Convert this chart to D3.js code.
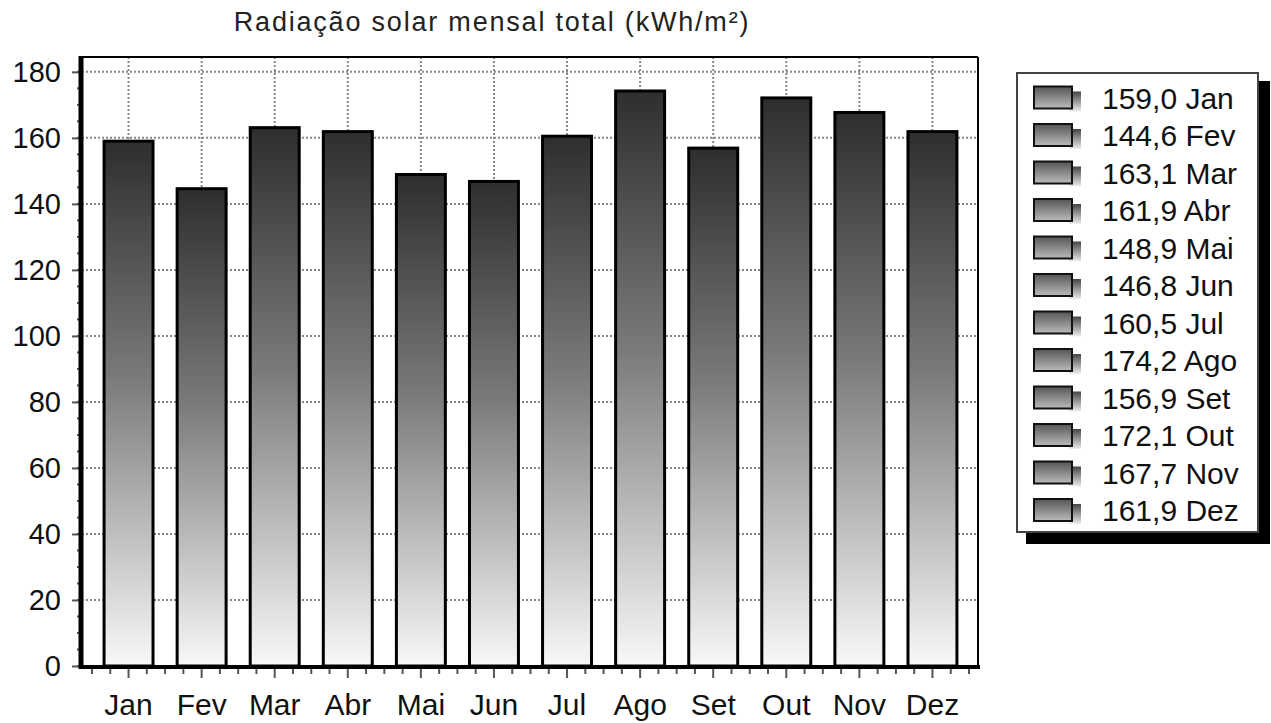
<!DOCTYPE html>
<html>
<head>
<meta charset="utf-8">
<script src="https://cdn.jsdelivr.net/npm/d3@7"></script>
<style>
  body { margin: 0; background: #fff; }
  svg { display: block; font-family: "Liberation Sans", Arial, sans-serif; }
</style>
</head>
<body>
<div id="chart"></div>
<script>
var months = ["Jan", "Fev", "Mar", "Abr", "Mai", "Jun", "Jul", "Ago", "Set", "Out", "Nov", "Dez"];
var radiation = [159.0, 144.6, 163.1, 161.9, 148.9, 146.8, 160.5, 174.2, 156.9, 172.1, 167.7, 161.9];
var yTicks = [0, 20, 40, 60, 80, 100, 120, 140, 160, 180];
var chartTitle = "Radiação solar mensal total (kWh/m²)";

var svgWidth = 1271;
var svgHeight = 723;

var plot = { left: 82, right: 978, top: 57, bottom: 666 };

var ptBR = d3.formatLocale({ decimal: ",", thousands: ".", grouping: [3], currency: ["R$", ""] });
var fmt = ptBR.format(".1f");

var data = months.map(function (m, i) { return { month: m, value: radiation[i] }; });

var svg = d3.select("#chart")
    .append("svg")
    .attr("width", svgWidth)
    .attr("height", svgHeight);

var defs = svg.append("defs");

var barGrad = defs.append("linearGradient")
    .attr("id", "barGrad")
    .attr("x1", 0).attr("y1", 0).attr("x2", 0).attr("y2", 1);
barGrad.append("stop").attr("offset", "0%").attr("stop-color", "#2e2e2e");
barGrad.append("stop").attr("offset", "45%").attr("stop-color", "#7a7a7a");
barGrad.append("stop").attr("offset", "100%").attr("stop-color", "#f8f8f8");

var keyGrad = defs.append("linearGradient")
    .attr("id", "keyGrad")
    .attr("x1", 0).attr("y1", 0).attr("x2", 0).attr("y2", 1);
keyGrad.append("stop").attr("offset", "0%").attr("stop-color", "#555");
keyGrad.append("stop").attr("offset", "100%").attr("stop-color", "#bbb");

var keyShade = defs.append("linearGradient")
    .attr("id", "keyShade")
    .attr("x1", 0).attr("y1", 0).attr("x2", 0).attr("y2", 1);
keyShade.append("stop").attr("offset", "0%").attr("stop-color", "#444");
keyShade.append("stop").attr("offset", "100%").attr("stop-color", "#eee");

var xScale = d3.scaleBand()
    .domain(months)
    .range([92, 969])
    .paddingInner(0.33)
    .paddingOuter(0.165);

var yScale = d3.scaleLinear()
    .domain([0, 184.5])
    .range([plot.bottom, plot.top]);

// title
svg.append("text")
    .attr("x", 492)
    .attr("y", 31)
    .attr("text-anchor", "middle")
    .attr("font-size", 27)
    .attr("letter-spacing", 1.8)
    .attr("fill", "#222")
    .text(chartTitle);

// grid
var grid = svg.append("g");
grid.selectAll(".hgrid")
    .data(yTicks.filter(function (d) { return d > 0; }))
    .enter()
    .append("line")
    .attr("x1", plot.left)
    .attr("x2", plot.right)
    .attr("y1", function (d) { return yScale(d); })
    .attr("y2", function (d) { return yScale(d); })
    .attr("stroke", "#888")
    .attr("stroke-width", 2)
    .attr("stroke-dasharray", "2,2");

grid.selectAll(".vgrid")
    .data(months)
    .enter()
    .append("line")
    .attr("x1", function (d) { return xScale(d) + xScale.bandwidth() / 2; })
    .attr("x2", function (d) { return xScale(d) + xScale.bandwidth() / 2; })
    .attr("y1", plot.top)
    .attr("y2", plot.bottom)
    .attr("stroke", "#888")
    .attr("stroke-width", 2)
    .attr("stroke-dasharray", "2,2");

// bars
svg.append("g")
    .selectAll("rect")
    .data(data)
    .enter()
    .append("rect")
    .attr("x", function (d) { return xScale(d.month); })
    .attr("y", function (d) { return yScale(d.value); })
    .attr("width", xScale.bandwidth())
    .attr("height", function (d) { return yScale(0) - yScale(d.value); })
    .attr("fill", "url(#barGrad)")
    .attr("stroke", "#000")
    .attr("stroke-width", 3);

// frame top and right
svg.append("line")
    .attr("x1", plot.left).attr("x2", plot.right)
    .attr("y1", plot.top).attr("y2", plot.top)
    .attr("stroke", "#000").attr("stroke-width", 2);
svg.append("line")
    .attr("x1", plot.right).attr("x2", plot.right)
    .attr("y1", plot.top).attr("y2", plot.bottom)
    .attr("stroke", "#000").attr("stroke-width", 2);

// y axis
var yMinor = d3.range(0, 185, 5);
var yAxis = d3.axisLeft(yScale)
    .tickValues(yTicks)
    .tickSize(10)
    .tickPadding(11);

var yAxisG = svg.append("g")
    .attr("transform", "translate(" + plot.left + ",0)")
    .call(yAxis);
yAxisG.select(".domain").remove();
yAxisG.selectAll(".tick line").attr("stroke", "#555").attr("stroke-width", 2);
yAxisG.selectAll(".tick text")
    .attr("font-size", 29)
    .attr("font-family", "Liberation Sans, Arial, sans-serif")
    .attr("fill", "#111");

svg.append("g")
    .selectAll("line")
    .data(yMinor)
    .enter()
    .append("line")
    .attr("x1", plot.left - 5)
    .attr("x2", plot.left)
    .attr("y1", function (d) { return yScale(d); })
    .attr("y2", function (d) { return yScale(d); })
    .attr("stroke", "#555")
    .attr("stroke-width", 2);

svg.append("line")
    .attr("x1", plot.left - 1).attr("x2", plot.left - 1)
    .attr("y1", plot.top - 1).attr("y2", plot.bottom + 3)
    .attr("stroke", "#000").attr("stroke-width", 5);

// x axis
var step = xScale.step();
var xMinor = [];
months.forEach(function (m) {
    var c = xScale(m) + xScale.bandwidth() / 2;
    [-2, -1, 1].forEach(function (k) { xMinor.push(c + k * step / 4); });
});
xMinor.push(xScale("Dez") + xScale.bandwidth() / 2 + step / 2);

var xAxis = d3.axisBottom(xScale)
    .tickSize(10)
    .tickPadding(16);

var xAxisG = svg.append("g")
    .attr("transform", "translate(0," + (plot.bottom + 2) + ")")
    .call(xAxis);
xAxisG.select(".domain").remove();
xAxisG.selectAll(".tick line").attr("stroke", "#555").attr("stroke-width", 2);
xAxisG.selectAll(".tick text")
    .attr("font-size", 30)
    .attr("font-family", "Liberation Sans, Arial, sans-serif")
    .attr("fill", "#111");

svg.append("g")
    .selectAll("line")
    .data(xMinor)
    .enter()
    .append("line")
    .attr("x1", function (d) { return d; })
    .attr("x2", function (d) { return d; })
    .attr("y1", plot.bottom + 2)
    .attr("y2", plot.bottom + 8)
    .attr("stroke", "#555")
    .attr("stroke-width", 2);

svg.append("line")
    .attr("x1", plot.left - 3).attr("x2", plot.right + 2)
    .attr("y1", plot.bottom + 1).attr("y2", plot.bottom + 1)
    .attr("stroke", "#000").attr("stroke-width", 4);

// legend
var legend = { x: 1017, y: 73, w: 241, h: 459, row: 37.5 };

svg.append("rect")
    .attr("x", legend.x + 9)
    .attr("y", legend.y + 8)
    .attr("width", legend.w + 3)
    .attr("height", legend.h + 4)
    .attr("fill", "#000");

svg.append("rect")
    .attr("x", legend.x)
    .attr("y", legend.y)
    .attr("width", legend.w)
    .attr("height", legend.h)
    .attr("fill", "#fff")
    .attr("stroke", "#444")
    .attr("stroke-width", 2);

var items = svg.append("g")
    .selectAll("g")
    .data(data)
    .enter()
    .append("g")
    .attr("transform", function (d, i) {
        return "translate(" + legend.x + "," + (legend.y + 24.5 + i * legend.row) + ")";
    });

items.append("rect")
    .attr("x", 52)
    .attr("y", -6)
    .attr("width", 12)
    .attr("height", 20)
    .attr("fill", "url(#keyShade)");

items.append("rect")
    .attr("x", 17)
    .attr("y", -11)
    .attr("width", 38)
    .attr("height", 22)
    .attr("fill", "url(#keyGrad)")
    .attr("stroke", "#111")
    .attr("stroke-width", 2);

items.append("text")
    .attr("x", 85)
    .attr("y", 11)
    .attr("font-size", 30)
    .attr("fill", "#111")
    .text(function (d) { return fmt(d.value) + " " + d.month; });
</script>
</body>
</html>
